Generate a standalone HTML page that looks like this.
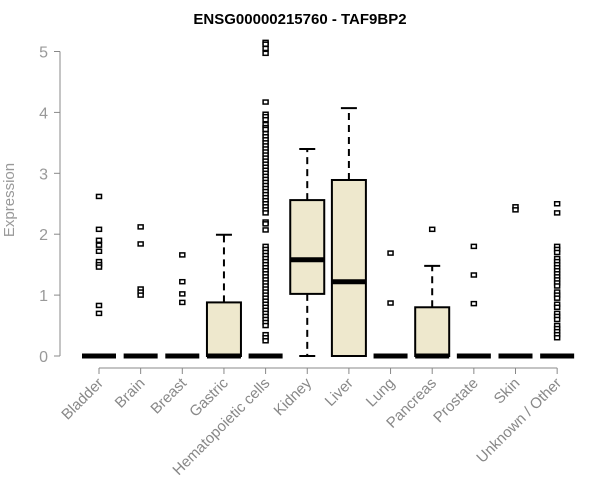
<!DOCTYPE html>
<html><head><meta charset="utf-8"><style>
body{margin:0;background:#fff}
svg{display:block;font-family:"Liberation Sans",Arial,sans-serif}
</style></head><body>
<svg id="chart" width="600" height="500" viewBox="0 0 600 500" xmlns="http://www.w3.org/2000/svg">
<text x="300" y="24" text-anchor="middle" font-weight="bold" font-size="15">ENSG00000215760 - TAF9BP2</text>
<text transform="translate(14,200) rotate(-90)" text-anchor="middle" font-size="15" fill="#999">Expression</text>
<g id="axes"></g><g id="marks"></g>
</svg>
<script>
const categories=["Bladder","Brain","Breast","Gastric","Hematopoietic cells","Kidney","Liver","Lung","Pancreas","Prostate","Skin","Unknown / Other"];
const q1=[0,0,0,0,0,1.02,0,0,0,0,0,0];
const medians=[0,0,0,0,0,1.58,1.22,0,0,0,0,0];
const q3=[0,0,0,0.88,0,2.56,2.89,0,0.8,0,0,0];
const whiskLow=[0,0,0,0,0,0,0,0,0,0,0,0];
const whiskHigh=[0,0,0,1.99,0,3.4,4.07,0,1.48,0,0,0];
const outliers=[
 [2.62,2.08,1.9,1.82,1.72,1.55,1.5,1.46,0.83,0.7],
 [2.12,1.84,1.1,1.05,1.0],
 [1.66,1.22,1.02,0.88],
 [],
 [5.15,5.12,5.05,4.97,4.17,3.97,3.93,3.88,3.8,3.75,3.72,3.65,3.6,3.55,3.5,3.45,3.4,3.35,3.3,3.25,3.2,3.15,3.1,3.05,3.0,2.95,2.9,2.85,2.8,2.75,2.7,2.65,2.6,2.55,2.5,2.45,2.4,2.35,2.2,2.17,2.07,1.8,1.75,1.7,1.65,1.6,1.55,1.5,1.45,1.4,1.35,1.3,1.25,1.2,1.15,1.1,1.05,1.0,0.95,0.9,0.85,0.8,0.75,0.7,0.65,0.6,0.55,0.5,0.35,0.3,0.25],
 [],[],
 [1.69,0.87],
 [2.08],
 [1.8,1.33,0.86],
 [2.45,2.4],
 [2.5,2.35,1.8,1.75,1.7,1.6,1.55,1.5,1.45,1.4,1.35,1.3,1.25,1.2,1.15,1.05,1.0,0.95,0.85,0.8,0.7,0.65,0.6,0.5,0.45,0.4,0.35,0.3]
];
const yTicks=[0,1,2,3,4,5];
const ns="http://www.w3.org/2000/svg";
const y=v=>356-v*60.9;
const x=i=>99+i*41.65;
function mk(p,t,a){const e=document.createElementNS(ns,t);for(const k in a)e.setAttribute(k,a[k]);p.appendChild(e);return e;}
const axes=document.getElementById('axes'),marks=document.getElementById('marks');
let l=mk(axes,'line',{x1:60,x2:60,y1:y(5),y2:y(0),stroke:'#888'});


yTicks.forEach(t=>{
 let tk=mk(axes,'line',{x1:54,x2:60,y1:y(t),y2:y(t),stroke:'#888'});
 
 
 let tx=mk(axes,'text',{x:48,y:y(t)+6,'text-anchor':'end','font-size':16,fill:'#999'});
 tx.textContent=t;
 
 
});
let xl=mk(axes,'line',{x1:x(0),x2:x(11),y1:368,y2:368,stroke:'#888'});


categories.forEach((c,i)=>{
 let tk=mk(axes,'line',{x1:x(i),x2:x(i),y1:368,y2:374,stroke:'#888'});
 
 
 let tx=mk(axes,'text',{transform:`translate(${x(i)+5},${384}) rotate(-45)`,'text-anchor':'end','font-size':15,fill:'#888'});
 tx.textContent=c;
 
 
});
categories.forEach((c,i)=>{
 const g=mk(marks,'g',{});
 
 
 const cx=x(i),hw=17;
 if(whiskHigh[i]>q3[i]){
  mk(g,'line',{x1:cx,x2:cx,y1:y(q3[i]),y2:y(whiskHigh[i]),stroke:'#000','stroke-width':2,'stroke-dasharray':'7,5'});
  mk(g,'line',{x1:cx-8,x2:cx+8,y1:y(whiskHigh[i]),y2:y(whiskHigh[i]),stroke:'#000','stroke-width':2});
 }
 if(whiskLow[i]<q1[i]){
  mk(g,'line',{x1:cx,x2:cx,y1:y(q1[i]),y2:y(whiskLow[i]),stroke:'#000','stroke-width':2,'stroke-dasharray':'7,5'});
  mk(g,'line',{x1:cx-8,x2:cx+8,y1:y(whiskLow[i]),y2:y(whiskLow[i]),stroke:'#000','stroke-width':2});
 }
 if(q3[i]>q1[i]) mk(g,'rect',{x:cx-hw,y:y(q3[i]),width:hw*2,height:y(q1[i])-y(q3[i]),fill:'#EEE8CD',stroke:'#000','stroke-width':2});
 mk(g,'line',{x1:cx-hw,x2:cx+hw,y1:y(medians[i]),y2:y(medians[i]),stroke:'#000','stroke-width':5});
 outliers[i].forEach(v=>{
  const p=mk(g,'rect',{x:cx-2.5,y:y(v)-2,width:5,height:4,fill:'#fff',stroke:'#000','stroke-width':1.5});
  
  
 });
});
</script>
</body></html>
